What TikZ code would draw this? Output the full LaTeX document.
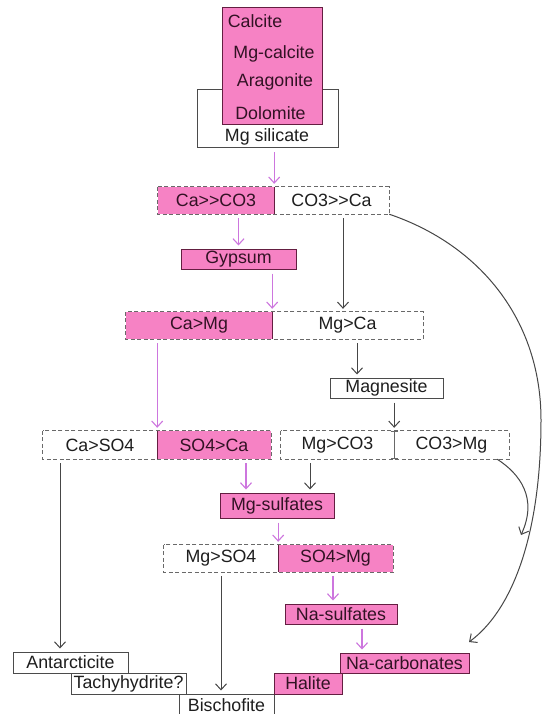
\documentclass[tikz,border=0pt]{standalone}
\usepackage{fontspec}
\setmainfont{Liberation Sans}
\usetikzlibrary{arrows.meta}
\definecolor{pinkf}{RGB}{246,130,196}
\definecolor{pinkd}{RGB}{100,30,65}
\definecolor{ptxt}{RGB}{50,18,36}
\definecolor{parrow}{RGB}{205,118,222}
\definecolor{karrow}{RGB}{70,70,70}
\definecolor{dgrey}{RGB}{105,105,105}
\definecolor{wdraw}{RGB}{75,75,75}
\definecolor{txt}{RGB}{30,30,30}
\newcommand{\fs}{\fontsize{17.8}{20}\selectfont}
\tikzset{
  base/.style={font=\fs, inner sep=0pt, anchor=center, text=txt},
  pbox/.style={base, fill=pinkf, draw=pinkd, line width=1pt, text=ptxt},
  wbox/.style={base, fill=white, draw=wdraw, line width=1pt},
  phalf/.style={base, fill=pinkf, text=ptxt},
  whalf/.style={base, fill=white},
  lbl/.style={base, text=ptxt},
  dbox/.style={draw=dgrey, dash pattern=on 4pt off 2.5pt, line width=1.1pt},
  pdiv/.style={draw=pinkd, line width=1pt},
  parr/.style={draw=parrow, line width=1.1pt, -{Straight Barb[length=6pt,width=11pt]}, shorten <=4pt, shorten >=3pt},
  karr/.style={draw=karrow, line width=1pt, -{Straight Barb[length=6pt,width=11pt]}, shorten <=4pt, shorten >=3pt},
}
\begin{document}
\begin{tikzpicture}[x=1pt,y=-1pt]
\useasboundingbox[fill=white] (0,0) rectangle (542,714);

% top stack
\node[wbox, minimum width=141pt, minimum height=58pt] (sil) at (267.5,119) {};
\node[pbox, minimum width=100pt, minimum height=117pt] (carb) at (272,66.5) {};
\node[lbl] (t1) at (255,21) {Calcite};
\node[lbl] (t2) at (274,54) {Mg-calcite};
\node[lbl] (t3) at (275,82) {Aragonite};
\node[lbl] (t4) at (270.5,113) {Dolomite};
\node[base] (silt) at (267,137) {Mg silicate};

% Ca>>CO3 | CO3>>Ca
\node[phalf, minimum width=116pt, minimum height=27pt] (ccL) at (216,200.5) {Ca>{}>CO3};
\node[whalf, minimum width=115pt, minimum height=27pt] (ccR) at (331.5,200.5) {CO3>{}>Ca};
\draw[dbox] (ccL.north west) rectangle (ccR.south east);
\draw[pdiv] (ccL.north east) -- (ccL.south east);

% Gypsum
\node[pbox, minimum width=115pt, minimum height=20pt] (gyp) at (238.5,259) {Gypsum};

% Ca>Mg | Mg>Ca
\node[phalf, minimum width=146pt, minimum height=27pt] (cmL) at (199,325.5) {Ca>Mg};
\node[whalf, minimum width=151pt, minimum height=27pt] (cmR) at (347.5,325.5) {Mg>Ca};
\draw[dbox] (cmL.north west) rectangle (cmR.south east);
\draw[pdiv] (cmL.north east) -- (cmL.south east);

% Magnesite
\node[wbox, minimum width=113pt, minimum height=20pt] (mag) at (386.5,388) {Magnesite};

% Ca>SO4 | SO4>Ca
\node[whalf, minimum width=114pt, minimum height=28pt] (csL) at (100,445) {Ca>SO4};
\node[phalf, minimum width=114pt, minimum height=28pt] (csR) at (214,445) {SO4>Ca};
\draw[dbox] (csL.north west) rectangle (csR.south east);
\draw[pdiv] (csL.north east) -- (csL.south east);

% Mg>CO3 | CO3>Mg
\node[whalf, minimum width=113pt, minimum height=28pt] (mcL) at (337.5,445) {Mg>CO3};
\node[whalf, minimum width=115pt, minimum height=28pt] (mcR) at (451.5,445) {CO3>Mg};
\draw[dbox] (mcL.north west) rectangle (mcR.south east);
\draw[draw=dgrey, line width=1pt, {Bar[width=7pt]}-{Bar[width=7pt]}] (mcL.north east) -- (mcL.south east);

% Mg-sulfates
\node[pbox, minimum width=114pt, minimum height=25pt] (mgs) at (277,505.5) {Mg-sulfates};

% Mg>SO4 | SO4>Mg
\node[whalf, minimum width=114pt, minimum height=27pt] (msL) at (221,558.5) {Mg>SO4};
\node[phalf, minimum width=115pt, minimum height=27pt] (msR) at (335.5,558.5) {SO4>Mg};
\draw[dbox] (msL.north west) rectangle (msR.south east);
\draw[pdiv] (msL.north east) -- (msL.south east);

% Na-sulfates
\node[pbox, minimum width=112pt, minimum height=20pt] (nas) at (341,614) {Na-sulfates};

% bottom staircase
\node[wbox, minimum width=115pt, minimum height=21pt] (ant) at (70.5,662.5) {Antarcticite};
\node[wbox, minimum width=115pt, minimum height=21pt] (tac) at (128.5,683.5) {Tachyhydrite?};
\node[wbox, minimum width=95pt, minimum height=26pt] (bis) at (226.5,707) {};
\node[base] (bist) at (226.5,705) {Bischofite};
\node[pbox, minimum width=129pt, minimum height=20pt] (nac) at (404.5,663) {Na-carbonates};
\node[pbox, minimum width=68pt, minimum height=21pt] (hal) at (308,683.5) {Halite};

% connectors: pink path
\draw[parr] (sil.south -| ccL.east) -- (ccL.north east);
\draw[parr] (ccL.south -| gyp.north) -- (gyp.north);
\draw[parr] (gyp.south -| cmL.east) -- (cmL.north east);
\draw[parr] (cmL.south -| csL.east) -- (csL.north east);
\draw[parr] ([xshift=32pt]csR.south) -- ([xshift=32pt]csR.south |- mgs.north);
\draw[parr] (mgs.south -| msL.east) -- (msL.north east);
\draw[parr] ([xshift=-2.5pt]msR.south) -- ([xshift=-2.5pt]msR.south |- nas.north);
\draw[parr] ([xshift=21pt]nas.south) -- ([xshift=21pt]nas.south |- nac.north);

% connectors: black path
\draw[karr] ([xshift=11.5pt]ccR.south) -- ([xshift=11.5pt]ccR.south |- cmR.north);
\draw[karr] ([xshift=9.5pt]cmR.south) -- ([xshift=9.5pt]cmR.south |- mag.north);
\draw[karr] (mag.south -| mcL.east) -- (mcL.north east);
\draw[karr] ([xshift=-27.5pt]mcL.south) -- ([xshift=-27.5pt]mcL.south |- mgs.north);
\draw[karr] ([xshift=-40pt]csL.south) -- ([xshift=-40pt]csL.south |- ant.north);
\draw[karr] (msL.south) -- (msL.south |- bis.north);

% curved connectors
\coordinate (tipA) at (469,642);
\coordinate (tipB) at (521,535);
\draw[karr, shorten <=0pt, shorten >=0pt] (ccR.south east) .. controls (480,245) and (541,320) .. (541,420) .. controls (541,540) and (510,612) .. (tipA);
\draw[karr, shorten <=0pt, shorten >=0pt] ([xshift=-12pt]mcR.south east) .. controls (520,474) and (538,498) .. (tipB);
\end{tikzpicture}
\end{document}
